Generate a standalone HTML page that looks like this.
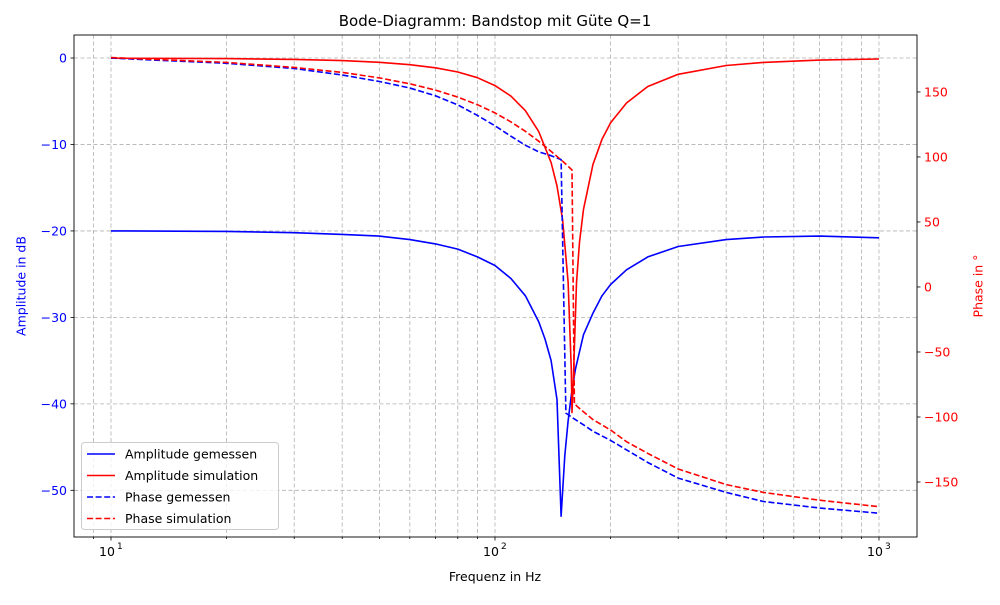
<!DOCTYPE html>
<html><head><meta charset="utf-8"><style>
body{margin:0;background:#fff;font-family:"Liberation Sans","DejaVu Sans",sans-serif}
svg text{font-family:"DejaVu Sans","Liberation Sans",sans-serif}
</style></head><body>
<svg id="c" width="1000" height="600" xmlns="http://www.w3.org/2000/svg"></svg>
<script>
const ampMeasFreq=[10,20,30,40,50,60,70,80,90,100,110,120,130,135,140,145,148.6,152,155,158,162,170,180,190,200,220,250,300,400,500,700,1000];
const ampMeasVal=[-20,-20.05,-20.2,-20.4,-20.6,-21,-21.5,-22.1,-23,-24,-25.5,-27.5,-30.5,-32.5,-35,-39.5,-53,-46,-42,-39,-36,-32,-29.5,-27.5,-26.2,-24.5,-23,-21.8,-21,-20.7,-20.6,-20.8];
const ampSimFreq=[10,20,30,40,50,60,70,80,90,100,110,120,130,140,145,150,155,158,158.7,160,163,166,170,180,190,200,220,250,300,400,500,700,1000];
const ampSimVal=[-0.02,-0.07,-0.16,-0.3,-0.5,-0.77,-1.13,-1.62,-2.28,-3.19,-4.41,-6.1,-8.5,-12.1,-14.8,-18.7,-25.9,-36,-41,-37,-26,-21.3,-17.5,-12.3,-9.4,-7.5,-5.2,-3.3,-1.88,-0.87,-0.51,-0.24,-0.11];
const phMeasFreq=[10,20,30,40,50,60,70,80,90,100,110,120,130,140,148.6,153,160,170,180,200,250,300,400,500,700,1000];
const phMeasVal=[176,172,168,163,158,153,147,140,132,124,116,109,104,101,98,-97,-101,-106,-111,-118,-135,-147,-158,-165,-170,-174];
const phSimFreq=[10,20,30,40,50,60,70,80,90,100,110,120,130,140,150,155,158.7,161,170,180,200,220,250,300,400,500,700,1000];
const phSimVal=[176.4,172.7,168.9,165,160.8,156.3,151.4,146,140.2,133.9,127,119.7,112.1,104.3,96.7,92.9,90,-90,-96,-102,-110,-119,-128,-140,-152,-158,-164,-169];
const xTicks=[10,100,1000];
const xTickLabels=["10","10","10"];
const yLeftTicks=[0,-10,-20,-30,-40,-50];
const yRightTicks=[150,100,50,0,-50,-100,-150];

const svg=document.getElementById('c');const NS='http://www.w3.org/2000/svg';
const L=74,R=917,T=35,B=537;
const xmin=Math.log10(8.01),xmax=Math.log10(1256);
const X=f=>L+(Math.log10(f)-xmin)/(xmax-xmin)*(R-L);
const Y1=v=>T+(2.66-v)/(2.66+55.4)*(B-T);
const Y2=v=>T+(193.8-v)/(193.8+192.3)*(B-T);
function el(t,a,p){const e=document.createElementNS(NS,t);for(const k in a)e.setAttribute(k,a[k]);(p||svg).appendChild(e);return e;}
for(let e=0;e<4;e++){for(let m=1;m<10;m++){const f=m*Math.pow(10,e);const x=X(f);if(x<L||x>R)continue;
const g=el('line',{x1:x,x2:x,y1:T,y2:B,stroke:'#b0b0b0','stroke-width':0.8,'stroke-dasharray':'4,2.5'});

const tk=el('line',{x1:x,x2:x,y1:B,y2:B+(m==1?3.5:2),stroke:'#000','stroke-width':0.8});
}}
yLeftTicks.forEach(v=>{const y=Y1(v);
const g=el('line',{x1:L,x2:R,y1:y,y2:y,stroke:'#b0b0b0','stroke-width':0.8,'stroke-dasharray':'4,2.5'});

el('line',{x1:L-3.5,x2:L,y1:y,y2:y,stroke:'#000','stroke-width':0.8});
const t=el('text',{x:L-7,y:y+4.5,'text-anchor':'end','font-size':12.5,fill:'blue'});t.textContent=v<0?'\u2212'+(-v):v;
});
yRightTicks.forEach(v=>{const y=Y2(v);
el('line',{x1:R,x2:R+3.5,y1:y,y2:y,stroke:'#000','stroke-width':0.8});
const t=el('text',{x:R+7,y:y+4.5,'font-size':12.5,fill:'red'});t.textContent=v<0?'\u2212'+(-v):v;
});
xTicks.forEach((f,i)=>{const t=el('text',{x:X(f)-4,y:B+19,'text-anchor':'middle','font-size':12.5});t.textContent=xTickLabels[i];

const s=el('text',{x:X(f)+6,y:B+12,'font-size':9});s.textContent=String(i+1);});
function series(fr,vals,Y,color,dash,name){const d=fr.map((f,i)=>(i?'L':'M')+X(f).toFixed(1)+','+Y(vals[i]).toFixed(1)).join('');
const p=el('path',{d:d,fill:'none',stroke:color,'stroke-width':1.6,'stroke-dasharray':dash||'none','stroke-linejoin':'round'});
}
series(ampMeasFreq,ampMeasVal,Y1,'blue',null,'amplitude-measured-line');
series(ampSimFreq,ampSimVal,Y1,'red',null,'amplitude-simulation-line');
series(phMeasFreq,phMeasVal,Y2,'blue','6,2.6','phase-measured-line');
series(phSimFreq,phSimVal,Y2,'red','6,2.6','phase-simulation-line');
el('rect',{x:L,y:T,width:R-L,height:B-T,fill:'none',stroke:'#000','stroke-width':0.9});
// legend
const lg=el('g',{});


el('rect',{x:81.5,y:442.5,width:197,height:87,rx:3,fill:'rgba(255,255,255,0.8)',stroke:'#ccc'},lg);
const legLabels=['Amplitude gemessen','Amplitude simulation','Phase gemessen','Phase simulation'];
const legColors=['blue','red','blue','red'];
legLabels.forEach((s,i)=>{const y=454+i*21.5;
el('line',{x1:87,x2:115,y1:y,y2:y,stroke:legColors[i],'stroke-width':1.6,'stroke-dasharray':i>1?'6,2.6':'none'},lg);
const t=el('text',{x:125,y:y+4.5,'font-size':12.5},lg);t.textContent=s;

});
</script>
<div style="position:absolute;left:0;top:0;width:1000px;height:600px;pointer-events:none;font-family:'DejaVu Sans','Liberation Sans',sans-serif">
<div style="position:absolute;left:0;width:990px;top:12px;text-align:center;font-size:15px">Bode-Diagramm: Bandstop mit Güte Q=1</div>
<div style="position:absolute;left:0;width:990px;top:569px;text-align:center;font-size:12.5px">Frequenz in Hz</div>
<div style="position:absolute;left:21px;top:286px;transform:translate(-50%,-50%) rotate(-90deg);font-size:12.5px;color:blue;white-space:nowrap">Amplitude in dB</div>
<div style="position:absolute;left:978px;top:286px;transform:translate(-50%,-50%) rotate(-90deg);font-size:12.5px;color:red;white-space:nowrap">Phase in °</div>
</div>
</body></html>
